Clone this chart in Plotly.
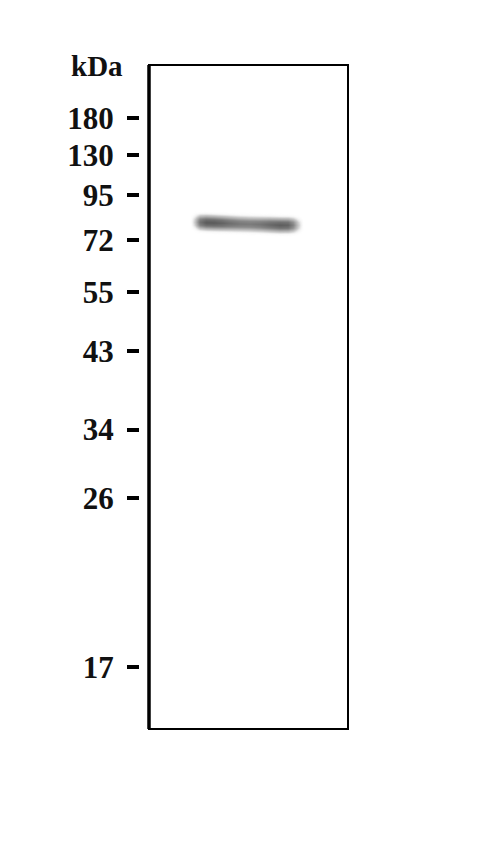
import numpy as np
import plotly.graph_objects as go

# marker ladder (kDa) and how far each ran down the gel (px from the top of the membrane)
marker_kda = ["180", "130", "95", "72", "55", "43", "34", "26", "17"]
marker_migration = [53, 90, 130, 175, 227, 286, 364, 432, 601]
gel_length = 663
gel_width = 198

# the single band (~80 kDa): intensity across the lane and its centre line
band_x = [40, 45, 50, 56, 64, 72, 80, 90, 100, 110, 120, 130, 138, 143, 148, 154]
band_intensity = [0.0, 0.3, 0.75, 0.9, 0.9, 0.85, 0.78, 0.72, 0.7, 0.74, 0.82, 0.88, 0.85, 0.65, 0.3, 0.0]
band_center = [156, 156, 156.2, 156.4, 156.7, 157, 157.3, 157.7, 158, 158.3, 158.6, 159, 159, 159, 159, 159]
# vertical profile of the band around its centre line
band_offset = [-12, -9, -6, -3, 0, 3, 6, 9, 12]
band_profile = [0.0, 0.12, 0.45, 0.85, 1.0, 0.85, 0.45, 0.12, 0.0]

rows = np.arange(140, 178, 1.0)
z = np.array([
    [h * np.interp(r - c, band_offset, band_profile) for h, c in zip(band_intensity, band_center)]
    for r in rows
])

fig = go.Figure()

fig.add_trace(go.Heatmap(
    x=band_x, y=rows, z=z,
    zmin=0, zmax=1, zsmooth="best", showscale=False,
    colorscale=[[0, "rgba(255,255,255,0)"], [0.25, "#cfcfcf"], [0.6, "#8a8a8a"], [1, "#4a4a4a"]],
    hoverinfo="skip"
))

# invisible trace so the ladder axis shows up
fig.add_trace(go.Scatter(x=[0] * len(marker_migration), y=marker_migration,
                         mode="markers", marker=dict(opacity=0), yaxis="y2",
                         hoverinfo="skip", showlegend=False))

fig.update_layout(
    width=500, height=863,
    margin=dict(l=0, r=0, t=0, b=0),
    paper_bgcolor="white", plot_bgcolor="white",
    showlegend=False,
    xaxis=dict(domain=[149 / 500, 348 / 500], range=[0, gel_width],
               visible=False, fixedrange=True),
    yaxis=dict(domain=[(863 - 729) / 863, (863 - 65) / 863], range=[gel_length, 0],
               visible=False),
    yaxis2=dict(
        overlaying="y", anchor="free", position=139 / 500,
        domain=[(863 - 729) / 863, (863 - 65) / 863], range=[gel_length, 0],
        tickvals=marker_migration, ticktext=marker_kda,
        ticks="outside", ticklen=12, tickwidth=4, tickcolor="black",
        showline=False, showgrid=False, zeroline=False,
        ticklabelstandoff=7,
        tickfont=dict(family="Liberation Serif", size=31, color="#111", weight="bold"),
    ),
    shapes=[
        dict(type="rect", xref="x domain", yref="y domain", x0=0, x1=1, y0=0, y1=1,
             line=dict(color="black", width=2)),
        dict(type="line", xref="x domain", yref="y domain", x0=0, x1=0, y0=0, y1=1,
             line=dict(color="black", width=3.5)),
    ],
    annotations=[
        dict(text="kDa", xref="paper", yref="paper", x=97 / 500, y=1 - 66 / 863,
             xanchor="center", yanchor="middle", showarrow=False,
             font=dict(family="Liberation Serif", size=29, color="#111", weight="bold"))
    ],
)

# the page's default body margin pushes the figure off by 8px
fig.write_html("out.html", config={"displayModeBar": False},
               post_script="document.body.style.margin='0px';")
